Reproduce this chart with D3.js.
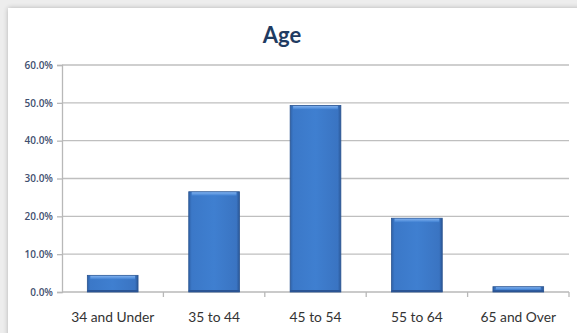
<!DOCTYPE html>
<html><head><meta charset="utf-8">
<script src="https://cdn.jsdelivr.net/npm/d3@7"></script>
<style>html,body{margin:0;padding:0;background:#fff;}</style>
</head><body>
<svg id="c" width="577" height="333"></svg>
<script>
const categories = ["34 and Under", "35 to 44", "45 to 54", "55 to 64", "65 and Over"];
const values = [0.044, 0.265, 0.493, 0.195, 0.014];
const yTicks = [0, 0.1, 0.2, 0.3, 0.4, 0.5, 0.6];
const title = "Age";

const svg = d3.select("#c");
const W = 577, H = 333;
svg.append("rect").attr("width", W).attr("height", H).attr("fill", "#ededed");
const defs = svg.append("defs");
const sh = defs.append("filter").attr("id","sh").attr("x","-5%").attr("y","-5%").attr("width","110%").attr("height","110%");
sh.append("feGaussianBlur").attr("in","SourceAlpha").attr("stdDeviation",2.5);
sh.append("feOffset").attr("dx",0).attr("dy",0).attr("result","b");
sh.append("feComponentTransfer").append("feFuncA").attr("type","linear").attr("slope",0.25);
const mg = sh.append("feMerge"); mg.append("feMergeNode"); mg.append("feMergeNode").attr("in","SourceGraphic");
svg.append("rect").attr("x", 8).attr("y", 8).attr("width", 575).attr("height", 340).attr("fill", "#fff").attr("filter","url(#sh)");

const m = {left: 62, right: 569, top: 65, bottom: 292};
const x = d3.scaleBand().domain(categories).range([m.left, m.right]).paddingInner(0.5).paddingOuter(0.25);
const y = d3.scaleLinear().domain([0, 0.6]).range([m.bottom, m.top]);

svg.append("g").selectAll("line").data(yTicks.slice(1)).join("line")
  .attr("x1", m.left).attr("x2", m.right)
  .attr("y1", d => y(d)).attr("y2", d => y(d))
  .attr("stroke", "#bfbfbf").attr("stroke-width", 1.4);

const yAxis = d3.axisLeft(y).tickValues(yTicks).tickFormat(d3.format(".1%")).tickSize(5).tickPadding(4);
const gy = svg.append("g").attr("transform", `translate(${m.left},0)`).call(yAxis);
gy.select(".domain").attr("stroke", "#b8b8b8").attr("stroke-width", 1.3);
gy.selectAll(".tick line").attr("stroke", "#b8b8b8").attr("stroke-width", 1.3);
gy.selectAll("text").attr("fill", "#3f4f6f").style("font-family", "'Open Sans', 'Liberation Sans', sans-serif").style("font-size", "10px").style("font-weight", "600");

const xPos = d3.scaleLinear().domain([0, categories.length]).range([m.left, m.right]);
const xAxis = d3.axisBottom(x).tickSize(0).tickPadding(20);
const gx = svg.append("g").attr("transform", `translate(0,${m.bottom})`).call(xAxis);
gx.select(".domain").remove();
gx.selectAll("text").attr("fill", "#333").style("font-family", "Lato, 'Open Sans', sans-serif").style("font-size", "13.8px");
svg.append("line").attr("x1", m.left).attr("x2", m.right).attr("y1", m.bottom).attr("y2", m.bottom).attr("stroke", "#b8b8b8").attr("stroke-width", 1.3);
svg.append("g").selectAll("line").data(d3.range(1, categories.length + 1)).join("line")
  .attr("x1", d => xPos(d)).attr("x2", d => xPos(d))
  .attr("y1", m.bottom).attr("y2", m.bottom + 5)
  .attr("stroke", "#b8b8b8").attr("stroke-width", 1.3);

const hg = defs.append("linearGradient").attr("id", "hg").attr("x1", 0).attr("x2", 1).attr("y1", 0).attr("y2", 0);
[[0, "#2f62a8"], [0.06, "#3b78c8"], [0.5, "#3f7fd0"], [0.94, "#3a74c2"], [1, "#2a5797"]].forEach(([o, c]) => hg.append("stop").attr("offset", o).attr("stop-color", c));
const vg = defs.append("linearGradient").attr("id", "vg").attr("x1", 0).attr("x2", 0).attr("y1", 0).attr("y2", 1);
[[0, "#7fb0ee"], [1, "#3f80d2"]].forEach(([o, c]) => vg.append("stop").attr("offset", o).attr("stop-color", c));

const bars = svg.append("g").selectAll("g").data(categories).join("g");
bars.append("rect")
  .attr("x", d => x(d)).attr("y", (d, i) => y(values[i]))
  .attr("width", x.bandwidth()).attr("height", (d, i) => y(0) - y(values[i]))
  .attr("fill", "url(#hg)").attr("stroke", "#2a5490").attr("stroke-width", 0.8);
bars.append("rect")
  .attr("x", d => x(d) + 3).attr("y", (d, i) => y(values[i]) + 0.5)
  .attr("width", x.bandwidth() - 6).attr("height", (d, i) => Math.min(3.5, (y(0) - y(values[i])) / 2))
  .attr("fill", "url(#vg)");
bars.append("rect")
  .attr("x", d => x(d)).attr("y", (d, i) => y(0) - Math.min(2, (y(0) - y(values[i])) / 3))
  .attr("width", x.bandwidth()).attr("height", (d, i) => Math.min(2, (y(0) - y(values[i])) / 3))
  .attr("fill", "#2a5494");

svg.append("text").attr("x", 282).attr("y", 43).attr("text-anchor", "middle")
  .attr("fill", "#1f3b62").style("font-family", "Lato, 'Open Sans', sans-serif").style("font-weight", "bold").style("font-size", "22px")
  .text(title);
</script>
</body></html>
